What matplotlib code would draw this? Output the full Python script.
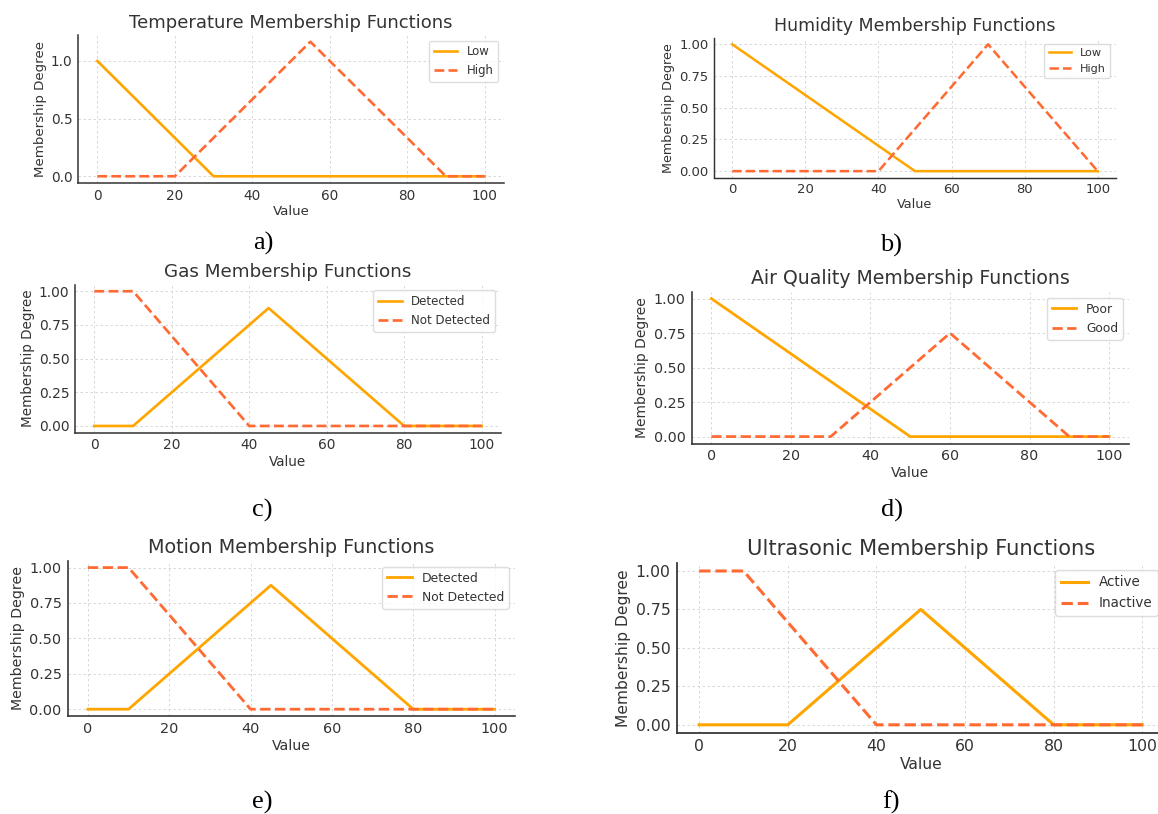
import matplotlib.pyplot as plt

# figure size in pixels
W, H = 1158, 814

titles = [
    "Temperature Membership Functions",
    "Humidity Membership Functions",
    "Gas Membership Functions",
    "Air Quality Membership Functions",
    "Motion Membership Functions",
    "Ultrasonic Membership Functions",
]
panel_letters = ["a)", "b)", "c)", "d)", "e)", "f)"]
x_label = "Value"
y_label = "Membership Degree"

# x points and y values for the solid and the dashed curve of each panel
temp_low_x, temp_low_y = [0, 30, 100], [1, 0, 0]
temp_high_x, temp_high_y = [0, 20, 55, 90, 100], [0, 0, 1.167, 0, 0]

hum_low_x, hum_low_y = [0, 50, 100], [1, 0, 0]
hum_high_x, hum_high_y = [0, 40, 70, 100], [0, 0, 1, 0]

gas_det_x, gas_det_y = [0, 10, 45, 80, 100], [0, 0, 0.875, 0, 0]
gas_not_x, gas_not_y = [0, 10, 40, 100], [1, 1, 0, 0]

air_poor_x, air_poor_y = [0, 50, 100], [1, 0, 0]
air_good_x, air_good_y = [0, 30, 60, 90, 100], [0, 0, 0.75, 0, 0]

mot_det_x, mot_det_y = [0, 10, 45, 80, 100], [0, 0, 0.875, 0, 0]
mot_not_x, mot_not_y = [0, 10, 40, 100], [1, 1, 0, 0]

ult_act_x, ult_act_y = [0, 20, 50, 80, 100], [0, 0, 0.75, 0, 0]
ult_ina_x, ult_ina_y = [0, 10, 40, 100], [1, 1, 0, 0]

series = [
    (("Low", temp_low_x, temp_low_y), ("High", temp_high_x, temp_high_y)),
    (("Low", hum_low_x, hum_low_y), ("High", hum_high_x, hum_high_y)),
    (("Detected", gas_det_x, gas_det_y), ("Not Detected", gas_not_x, gas_not_y)),
    (("Poor", air_poor_x, air_poor_y), ("Good", air_good_x, air_good_y)),
    (("Detected", mot_det_x, mot_det_y), ("Not Detected", mot_not_x, mot_not_y)),
    (("Active", ult_act_x, ult_act_y), ("Inactive", ult_ina_x, ult_ina_y)),
]

x_ticks = [0, 20, 40, 60, 80, 100]
y_ticks_a = [0.0, 0.5, 1.0]
y_ticks = [0.0, 0.25, 0.5, 0.75, 1.0]

# layout: axes box in pixels (left, top, right, bottom), font scale, letter position
boxes = [
    (78, 35, 504, 183),
    (714, 38, 1116, 177.5),
    (75, 284.5, 501, 432.7),
    (691.5, 291.7, 1129, 443.5),
    (67.5, 560.5, 515, 716.3),
    (677, 563.3, 1164.5, 732.5),
]
scales = [1.0, 0.96, 1.015, 1.046, 1.06, 1.16]
letter_pos = [(263, 243), (891, 245), (262, 510), (892, 510), (262, 802), (891, 802)]

solid_color = "#FFA500"
dash_color = "#FF6A33"
text_color = "#333333"

fig = plt.figure(figsize=(W / 100, H / 100), dpi=100)

for i in range(6):
    l, t, r, b = boxes[i]
    s = scales[i]
    ax = fig.add_axes([l / W, 1 - b / H, (r - l) / W, (b - t) / H])

    (name1, x1, y1), (name2, x2, y2) = series[i]
    ax.plot(x1, y1, color=solid_color, linewidth=1.9 * s, label=name1)
    ax.plot(x2, y2, color=dash_color, linewidth=1.9 * s, linestyle="--", label=name2)

    ax.set_xticks(x_ticks)
    if i == 0:
        ax.set_yticks(y_ticks_a)
    else:
        ax.set_yticks(y_ticks)

    ax.set_title(titles[i], fontsize=13 * s, color=text_color, pad=5 * s)
    ax.set_xlabel(x_label, fontsize=9.6 * s, color=text_color, labelpad=2 * s)
    ax.set_ylabel(y_label, fontsize=9.6 * s, color=text_color, labelpad=3 * s)
    ax.tick_params(labelsize=9.8 * s, colors=text_color, length=0, pad=4 * s)

    ax.grid(True, linestyle=(0, (3, 3)), linewidth=0.6, color="#d2d2d2")
    ax.spines["top"].set_visible(False)
    ax.spines["right"].set_visible(False)
    ax.spines["left"].set_color(text_color)
    ax.spines["bottom"].set_color(text_color)
    ax.spines["left"].set_linewidth(1.1 * s)
    ax.spines["bottom"].set_linewidth(1.1 * s)

    leg = ax.legend(loc="upper right", fontsize=8.4 * s, frameon=True)
    leg.get_frame().set_edgecolor("#d5d5d5")
    for txt in leg.get_texts():
        txt.set_color(text_color)

    fig.text(letter_pos[i][0] / W, 1 - letter_pos[i][1] / H, panel_letters[i],
             ha="center", va="center", fontsize=19, family="Liberation Serif", color="black")

plt.savefig("out.png", dpi=100)
